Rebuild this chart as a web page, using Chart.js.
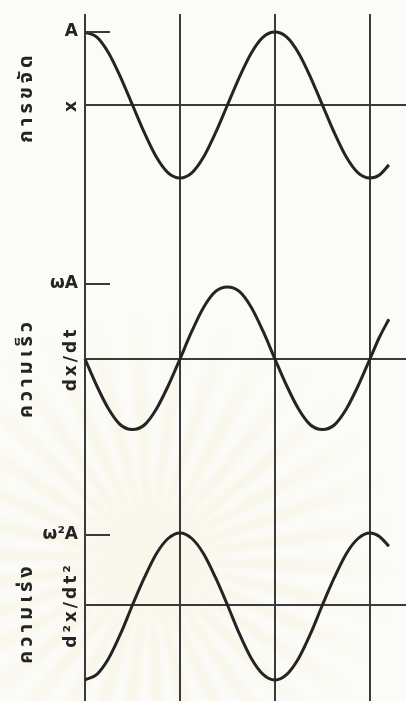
<!DOCTYPE html>
<html>
<head>
<meta charset="utf-8">
<script src="https://cdn.jsdelivr.net/npm/chart.js@4/dist/chart.umd.min.js"></script>
<style>
  html, body { margin: 0; padding: 0; background: #fbfbf8; }
  canvas { display: block; }
</style>
</head>
<body>
<canvas id="shm" width="406" height="701"></canvas>
<script>
// Time in units of half a period (T/2); vertical guide lines at each half period.
const halfPeriods = [0, 0.125, 0.25, 0.375, 0.5, 0.625, 0.75, 0.875,
                     1, 1.125, 1.25, 1.375, 1.5, 1.625, 1.75, 1.875,
                     2, 2.125, 2.25, 2.375, 2.5, 2.625, 2.75, 2.875,
                     3, 3.1, 3.2];
const periodMarks = [0, 1, 2, 3];

// Displacement x, in units of A
const displacement = [1, 0.93, 0.71, 0.38, 0, -0.38, -0.71, -0.93,
                      -1, -0.93, -0.71, -0.38, 0, 0.38, 0.71, 0.93,
                      1, 0.93, 0.71, 0.38, 0, -0.38, -0.71, -0.93,
                      -1, -0.96, -0.82];
// Velocity dx/dt, in units of ωA
const velocity = [0, -0.36, -0.67, -0.88, -0.94, -0.88, -0.67, -0.36,
                  0, 0.37, 0.69, 0.90, 0.96, 0.90, 0.69, 0.37,
                  0, -0.36, -0.67, -0.88, -0.94, -0.88, -0.67, -0.36,
                  0, 0.29, 0.53];
// Acceleration d²x/dt², in units of ω²A
const acceleration = [-1.07, -0.99, -0.76, -0.41, 0, 0.39, 0.73, 0.95,
                      1.03, 0.95, 0.73, 0.39, 0, -0.41, -0.76, -0.99,
                      -1.07, -0.99, -0.76, -0.41, 0, 0.39, 0.73, 0.95,
                      1.03, 0.98, 0.84];

const quantityNames = ['การขจัด', 'ความเร็ว', 'ความเร่ง'];
const symbolLabels = ['x', 'dx/dt', 'd²x/dt²'];
const amplitudeLabels = ['A', 'ωA', 'ω²A'];

const INK = '#242424';
const GUIDE = '#3a3a3a';
const PAPER = '#fbfbf8';
const panelIds = ['yDisp', 'yVel', 'yAcc'];

const toPoints = vals => vals.map((v, i) => ({ x: halfPeriods[i], y: v }));

const curve = (vals, axis) => ({
  data: toPoints(vals),
  yAxisID: axis,
  borderColor: INK,
  borderWidth: 3,
  pointRadius: 0,
  tension: 0.4,
  cubicInterpolationMode: 'monotone',
  clip: 10,
  fill: false
});

// one y scale per panel, stacked from top to bottom
const panelScale = (min, max, heightWeight, order) => ({
  type: 'linear',
  position: 'left',
  stack: 'panels',
  stackWeight: heightWeight,
  weight: order,
  min: min,
  max: max,
  afterBuildTicks: s => { s.ticks = [{ value: 0 }]; },
  ticks: { display: false },
  border: { display: false },
  grid: { color: GUIDE, lineWidth: 2, drawTicks: false }
});

const figureMarks = {
  id: 'figureMarks',
  beforeDraw(chart) {
    const { ctx, width, height } = chart;
    ctx.save();
    ctx.fillStyle = PAPER;
    ctx.fillRect(0, 0, width, height);
    // faint sunburst emblem printed behind the figure
    const cx = 150, cy = 560, R = 250;
    const g = ctx.createRadialGradient(cx, cy, 20, cx, cy, R);
    g.addColorStop(0, 'rgba(246,228,165,0.34)');
    g.addColorStop(0.55, 'rgba(246,230,175,0.18)');
    g.addColorStop(1, 'rgba(246,230,175,0)');
    ctx.fillStyle = g;
    ctx.filter = 'blur(3px)';
    const n = 34;
    for (let i = 0; i < n; i++) {
      const a0 = (i / n) * Math.PI * 2;
      const a1 = a0 + (Math.PI / n) * 0.85;
      ctx.beginPath();
      ctx.moveTo(cx, cy);
      ctx.arc(cx, cy, R, a0, a1);
      ctx.closePath();
      ctx.fill();
    }
    ctx.restore();
  },
  afterDatasetsDraw(chart) {
    const { ctx, chartArea } = chart;
    const left = chartArea.left;
    const nameShift = [-8, 9, 8];
    ctx.save();
    ctx.fillStyle = INK;
    ctx.strokeStyle = GUIDE;
    panelIds.forEach((id, i) => {
      const s = chart.scales[id];
      const yA = s.getPixelForValue(1);
      const y0 = s.getPixelForValue(0);
      // amplitude tick
      ctx.lineWidth = 2;
      ctx.beginPath();
      ctx.moveTo(left, yA);
      ctx.lineTo(left + 25, yA);
      ctx.stroke();
      // amplitude label
      ctx.font = 'bold 17px "DejaVu Sans", sans-serif';
      ctx.textAlign = 'right';
      ctx.textBaseline = 'middle';
      ctx.fillText(amplitudeLabels[i], left - 7, yA);
      // symbol of the quantity, written sideways
      ctx.save();
      ctx.translate(left - 13, y0);
      ctx.rotate(-Math.PI / 2);
      ctx.textAlign = 'center';
      ctx.textBaseline = 'middle';
      ctx.letterSpacing = '3px';
      ctx.fillText(symbolLabels[i], 0, 0);
      ctx.restore();
      // Thai name of the quantity, written sideways
      ctx.save();
      ctx.translate(28, y0 + nameShift[i]);
      ctx.rotate(-Math.PI / 2);
      ctx.font = 'bold 20px "Noto Sans Thai", "Noto Sans", "DejaVu Sans", sans-serif';
      ctx.textAlign = 'center';
      ctx.textBaseline = 'middle';
      ctx.letterSpacing = '4px';
      ctx.fillText(quantityNames[i], 0, 0);
      ctx.restore();
    });
    ctx.restore();
  }
};

new Chart(document.getElementById('shm'), {
  type: 'line',
  data: {
    datasets: [
      curve(displacement, 'yDisp'),
      curve(velocity, 'yVel'),
      curve(acceleration, 'yAcc')
    ]
  },
  options: {
    responsive: false,
    animation: false,
    layout: { padding: { left: 85, top: 14, right: 0, bottom: 0 } },
    plugins: { legend: { display: false }, tooltip: { enabled: false } },
    scales: {
      x: {
        type: 'linear',
        position: 'bottom',
        min: 0,
        max: 3.38,
        afterBuildTicks: s => { s.ticks = periodMarks.map(v => ({ value: v })); },
        ticks: { display: false },
        border: { display: false },
        grid: { color: GUIDE, lineWidth: 2, drawTicks: false }
      },
      yDisp: panelScale(-1.74, 1.247, 218, 3),
      yVel: panelScale(-1.64, 1.693, 250, 2),
      yAcc: panelScale(-1.371, 1.757, 219, 1)
    }
  },
  plugins: [figureMarks]
});
</script>
</body>
</html>
